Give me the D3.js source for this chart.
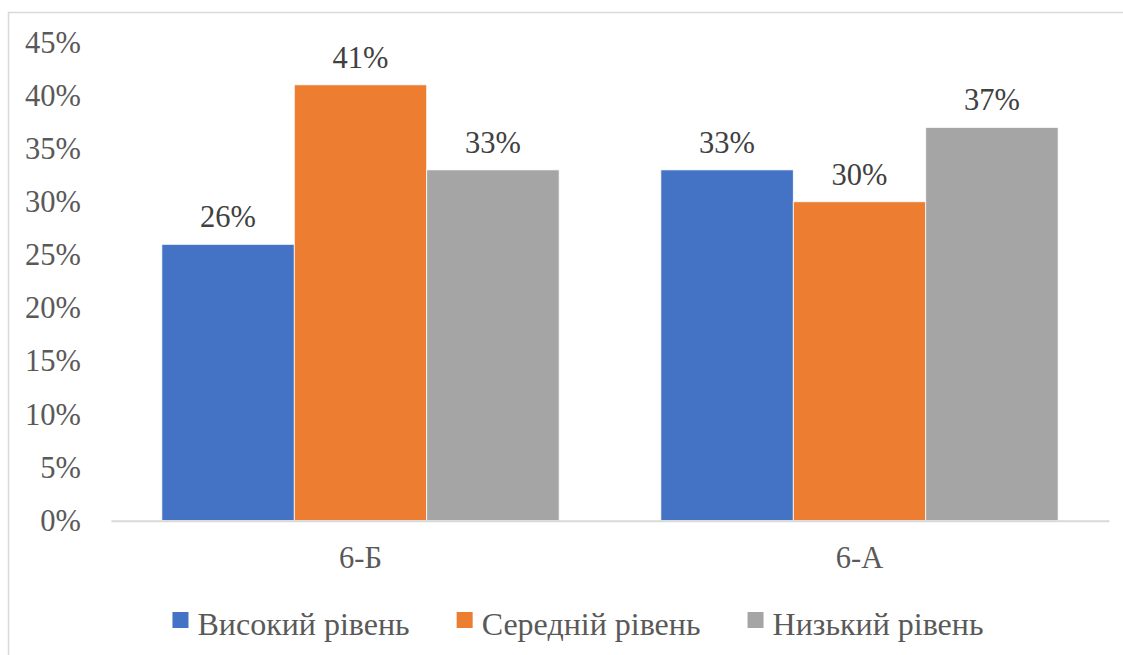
<!DOCTYPE html>
<html>
<head>
<meta charset="utf-8">
<script src="https://cdn.jsdelivr.net/npm/d3@7"></script>
<style>
  html, body { margin: 0; padding: 0; background: #fff; }
  svg { display: block; }
  svg text { font-family: "Liberation Serif", "Times New Roman", serif; }
</style>
</head>
<body>
<svg id="chart" width="1123" height="655" font-family="Liberation Serif"></svg>
<script>
// Groups (classes) and achievement levels
const categories = ["6-Б", "6-А"];
const seriesNames = ["Високий рівень", "Середній рівень", "Низький рівень"];
const seriesColors = ["#4472C4", "#ED7D31", "#A5A5A5"];
// Share of pupils per level, one array per level, ordered as categories
const highLevel = [0.26, 0.33];
const midLevel = [0.41, 0.30];
const lowLevel = [0.33, 0.37];
const yTicks = [0, 0.05, 0.10, 0.15, 0.20, 0.25, 0.30, 0.35, 0.40, 0.45];

const seriesValues = [highLevel, midLevel, lowLevel];
const rows = categories.map((c, i) => ({
  category: c,
  values: seriesNames.map((s, k) => ({ series: s, k, value: seriesValues[k][i] }))
}));

const svg = d3.select("#chart");
const serif = "Liberation Serif";

function styleText(sel, color, size) {
  sel.attr("fill", color)
    .attr("font-family", serif)
    .style("font-family", serif)
    .style("font-size", size);
}

// Chart frame
svg.append("rect")
  .attr("x", 8.5).attr("y", 12.5)
  .attr("width", 1130).attr("height", 660)
  .attr("fill", "#fff")
  .attr("stroke", "#d9d9d9").attr("stroke-width", 1.5);

const plot = { left: 111, right: 1109, top: 42.3, bottom: 520.7 };

const x0 = d3.scaleBand()
  .domain(categories)
  .range([plot.left, plot.right])
  .paddingInner(0.2038)
  .paddingOuter(0.1019);

const x1 = d3.scaleBand()
  .domain(seriesNames)
  .range([0, x0.bandwidth()])
  .padding(0);

const y = d3.scaleLinear()
  .domain([0, 0.45])
  .range([plot.bottom, plot.top]);

const pct = d3.format(".0%");

// Y axis labels (no axis line or gridlines)
const yAxis = svg.append("g")
  .attr("transform", `translate(${plot.left},0)`)
  .call(d3.axisLeft(y).tickValues(yTicks).tickFormat(pct).tickSize(0).tickPadding(30));
yAxis.select(".domain").remove();
yAxis.attr("font-family", serif);
styleText(yAxis.selectAll("text"), "#595959", "30.5px");

// Bars
const groups = svg.append("g").selectAll("g")
  .data(rows)
  .join("g")
  .attr("transform", d => `translate(${x0(d.category)},0)`);

groups.selectAll("rect")
  .data(d => d.values)
  .join("rect")
  .attr("x", d => x1(d.series))
  .attr("y", d => y(d.value))
  .attr("width", x1.bandwidth())
  .attr("height", d => y(0) - y(d.value))
  .attr("fill", d => seriesColors[d.k])
  .attr("stroke", "#fff")
  .attr("stroke-width", 0.8);

// Value labels
const valueLabels = groups.selectAll("text")
  .data(d => d.values)
  .join("text")
  .attr("x", d => x1(d.series) + x1.bandwidth() / 2)
  .attr("y", d => y(d.value) - 17)
  .attr("text-anchor", "middle")
  .text(d => pct(d.value));
styleText(valueLabels, "#404040", "30.5px");

// X axis line and category labels
const xAxis = svg.append("g")
  .attr("transform", `translate(0,${plot.bottom})`)
  .call(d3.axisBottom(x0).tickSize(0).tickSizeOuter(0));
xAxis.attr("font-family", serif);
xAxis.select(".domain")
  .attr("stroke", "#d9d9d9")
  .attr("stroke-width", 2);
xAxis.selectAll("text")
  .attr("dy", null)
  .attr("y", 47);
styleText(xAxis.selectAll("text"), "#595959", "30.5px");

// Legend
const legend = svg.append("g").attr("transform", "translate(0,635)");
const items = legend.selectAll("g")
  .data(seriesNames)
  .join("g");
items.append("rect")
  .attr("y", -23)
  .attr("width", 16).attr("height", 16)
  .attr("fill", (d, i) => seriesColors[i]);
const legendText = items.append("text")
  .attr("x", 25)
  .text(d => d);
styleText(legendText, "#595959", "32px");

const gapBetween = 47;
const widths = [];
items.each(function () {
  widths.push(25 + d3.select(this).select("text").node().getComputedTextLength());
});
const total = d3.sum(widths) + gapBetween * (widths.length - 1);
let cursor = 578 - total / 2;
items.attr("transform", (d, i) => {
  const t = `translate(${cursor},0)`;
  cursor += widths[i] + gapBetween;
  return t;
});
</script>
</body>
</html>
